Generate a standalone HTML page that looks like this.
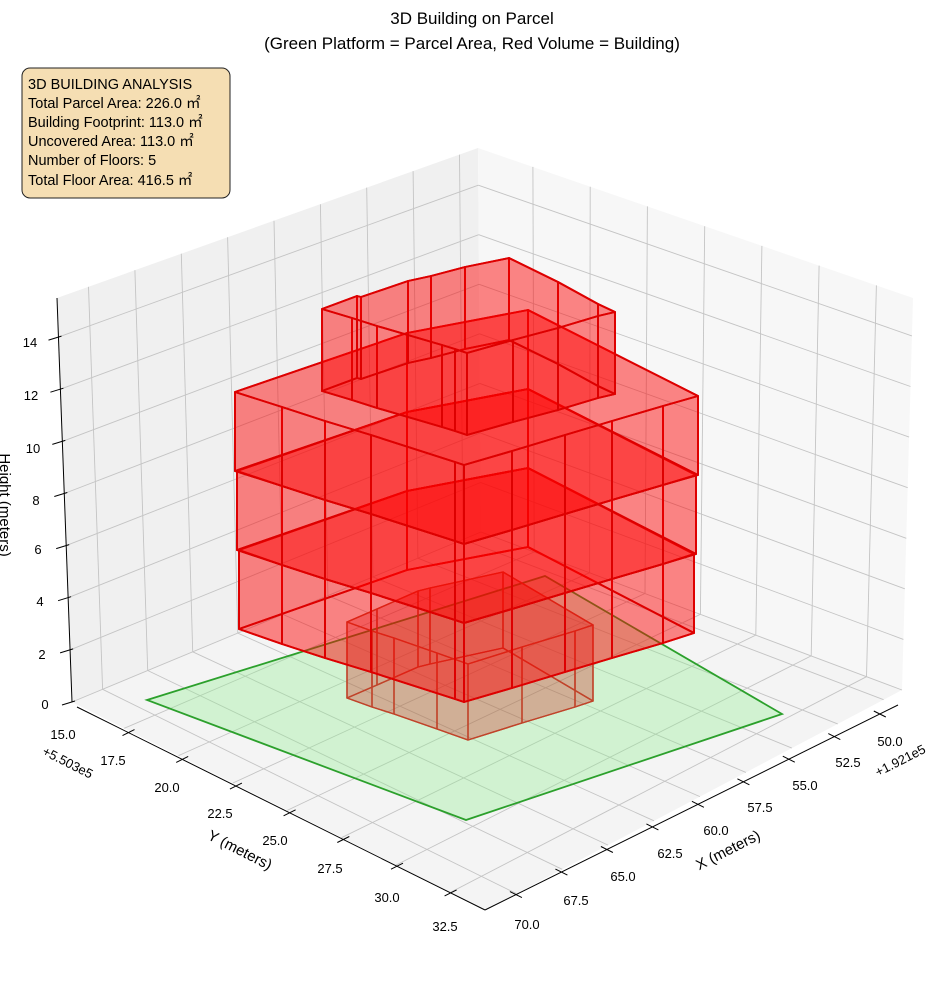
<!DOCTYPE html>
<html><head><meta charset="utf-8"><style>
html,body{margin:0;padding:0;background:#fff;}
svg{display:block;font-family:"Liberation Sans","Noto Sans CJK JP",sans-serif;}
</style></head><body>
<svg id="s" width="944" height="992" viewBox="0 0 944 992" xmlns="http://www.w3.org/2000/svg">
<rect width="944" height="992" fill="#fff"/>
<g id="panes"></g>
<g id="grid" stroke="#c4c4c4" stroke-width="0.9" fill="none"></g>
<g id="data"></g>
<g id="axes" stroke="#000" stroke-width="1" fill="none"></g>
<g id="labels" font-size="13" fill="#000" text-anchor="middle"></g>
<text x="472" y="24" font-size="17" text-anchor="middle">3D Building on Parcel</text>
<text x="472" y="49" font-size="17" text-anchor="middle">(Green Platform = Parcel Area, Red Volume = Building)</text>
<rect x="22" y="68" width="208" height="130" rx="8" fill="#f5deb3" stroke="#222" stroke-width="1"/>
<g font-size="14.5" fill="#000">
<text x="28" y="89">3D BUILDING ANALYSIS</text>
<text x="28" y="108">Total Parcel Area: 226.0 ㎡</text>
<text x="28" y="127">Building Footprint: 113.0 ㎡</text>
<text x="28" y="146">Uncovered Area: 113.0 ㎡</text>
<text x="28" y="165">Number of Floors: 5</text>
<text x="28" y="185">Total Floor Area: 416.5 ㎡</text>
</g>
</svg>
<script>
const NS="http://www.w3.org/2000/svg";
function el(parent,tag,attrs,text){const e=document.createElementNS(NS,tag);for(const k in attrs)e.setAttribute(k,attrs[k]);if(text!==undefined)e.textContent=text;document.getElementById(parent).appendChild(e);return e;}
const xmin=49.0,xmax=71.7,ymin=15.1,ymax=34.1,zt=15.5;
const B=[481,532],A=[72,702],C=[902,690],D=[485,910];
const Bt=[478,148],At=[57,298],Ct=[913,298],Dt=[486,495];
function bil(p,q,r,s_,s,t){return [p[0]*(1-s)*(1-t)+q[0]*s*(1-t)+r[0]*(1-s)*t+s_[0]*s*t, p[1]*(1-s)*(1-t)+q[1]*s*(1-t)+r[1]*(1-s)*t+s_[1]*s*t];}
function P(x,y,z){const s=(x-xmin)/(xmax-xmin),t=(y-ymin)/(ymax-ymin),w=z/zt;
 const f=bil(B,A,C,D,s,t),g=bil(Bt,At,Ct,Dt,s,t);return [f[0]+(g[0]-f[0])*w,f[1]+(g[1]-f[1])*w];}
function pts(a){return a.map(p=>p[0].toFixed(1)+","+p[1].toFixed(1)).join(" ");}
el("panes","polygon",{points:pts([A,B,Bt,At]),fill:"#f0f0f0"});
el("panes","polygon",{points:pts([B,C,Ct,Bt]),fill:"#f7f7f7"});
el("panes","polygon",{points:pts([A,B,C,D]),fill:"#f4f4f4"});
function L(g,p,q){el(g,"line",{x1:p[0].toFixed(1),y1:p[1].toFixed(1),x2:q[0].toFixed(1),y2:q[1].toFixed(1)});}
for(let x=50;x<=70.01;x+=2.5){L("grid",P(x,ymin,0),P(x,ymax,0));L("grid",P(x,ymin,0),P(x,ymin,zt));}
for(let y=15;y<=32.51;y+=2.5){if(y<ymin)continue;L("grid",P(xmin,y,0),P(xmax,y,0));L("grid",P(xmin,y,0),P(xmin,y,zt));}
for(let z=0;z<=14;z+=2){L("grid",P(xmax,ymin,z),P(xmin,ymin,z));L("grid",P(xmin,ymin,z),P(xmin,ymax,z));}
el("data","polygon",{points:"147,700 545,576 782,714 466,820",fill:"#90ee90","fill-opacity":"0.35",stroke:"#2ca02c","stroke-width":"1.8"});
function prism(top,dz,fill,op,stroke,sw){
 const bot=top.map(p=>[p[0]+(dz[0]||0),p[1]+dz[1]]);
 const n=top.length;
 el("data","polygon",{points:pts(bot),fill:fill,"fill-opacity":op,stroke:stroke,"stroke-width":sw,"stroke-linejoin":"round"});
 for(let i=0;i<n;i++){const j=(i+1)%n;
  el("data","polygon",{points:pts([top[i],top[j],bot[j],bot[i]]),fill:fill,"fill-opacity":op,stroke:stroke,"stroke-width":sw,"stroke-linejoin":"round"});}
 el("data","polygon",{points:pts(top),fill:fill,"fill-opacity":op,stroke:stroke,"stroke-width":sw,"stroke-linejoin":"round"});
}
const T1=[[347,622],[372,631],[394,638],[437,653],[468,664],[522,647],[575,631],[593,625],[503,572],[430,588],[418,591],[377,609]];
prism(T1,[0,76],"#d00000","0.15","#c0442a","1.4");
function lvl(y0){
 const f=y0/237;
 const base=[[235,392],[282,407],[325,421],[371,435],[455,462],[464,465],[512,451],[565,435],[612,421],[663,406],[698,396],[528,310],[407,333]];
 return base.map((p,i)=>{let dx=0; if(i===0)dx=6*f; if(i===10)dx=-6*f; return [p[0]+dx,p[1]+y0];});
}
prism(lvl(158),[0,79],"#ff0000","0.27","#dd0000","1.9");
prism(lvl(79),[0,79],"#ff0000","0.27","#dd0000","1.9");
prism(lvl(0),[0,79],"#ff0000","0.27","#dd0000","1.9");
const T5=[[322,309],[352,318],[377,326],[442,345],[455,349],[467,353],[513,340],[558,328],[598,316],[615,312],[598,304],[558,282],[509,258],[465,267],[431,276],[408,281],[361,297],[357,296]];
prism(T5,[0,82],"#ff0000","0.27","#dd0000","1.9");
L("axes",[57,298],[72,702]);
L("axes",[77,707],[485,910]);
L("axes",[485,910],[898,705]);
for(let y=17.5;y<=32.51;y+=2.5){const t=(y-ymin)/(ymax-ymin);const p=[77+t*408,707+t*203];L("axes",[p[0]-6,p[1]+3],[p[0]+6,p[1]-3]);}
for(let x=50;x<=70.01;x+=2.5){const s=(xmax-x)/(xmax-xmin);const p=[485+s*413,910-s*205];L("axes",[p[0]-6,p[1]-3],[p[0]+6,p[1]+3]);}
for(let z=0;z<=14;z+=2){const w=z/zt;const p=[72-15*w,702-404*w];L("axes",[p[0]-10,p[1]+3],[p[0]+3,p[1]-1]);}
const yl=[["15.0",63,734],["17.5",113,760],["20.0",167,787],["22.5",220,813],["25.0",275,840],["27.5",330,868],["30.0",387,897],["32.5",445,926]];
const xl=[["70.0",527,924],["67.5",576,900],["65.0",623,876],["62.5",670,853],["60.0",716,830],["57.5",760,807],["55.0",805,785],["52.5",848,762],["50.0",890,741]];
const zl=[["0",45,704],["2",42,654],["4",40,601],["6",38,549],["8",36,500],["10",33,448],["12",31,395],["14",30,342]];
for(const a of yl.concat(xl,zl))el("labels","text",{x:a[1],y:a[2]+5},a[0]);
el("labels","text",{x:68,y:767,transform:"rotate(27 68 762)"},"+5.503e5");
el("labels","text",{x:900,y:765,transform:"rotate(-27 900 760)"},"+1.921e5");
el("labels","text",{x:240,y:855,"font-size":"15",transform:"rotate(27 240 850)"},"Y (meters)");
el("labels","text",{x:728,y:855,"font-size":"15",transform:"rotate(-27 728 850)"},"X (meters)");
el("labels","text",{x:0,y:515,"font-size":"15",transform:"rotate(90 5 510)"},"Height (meters)");
</script>
</body></html>
